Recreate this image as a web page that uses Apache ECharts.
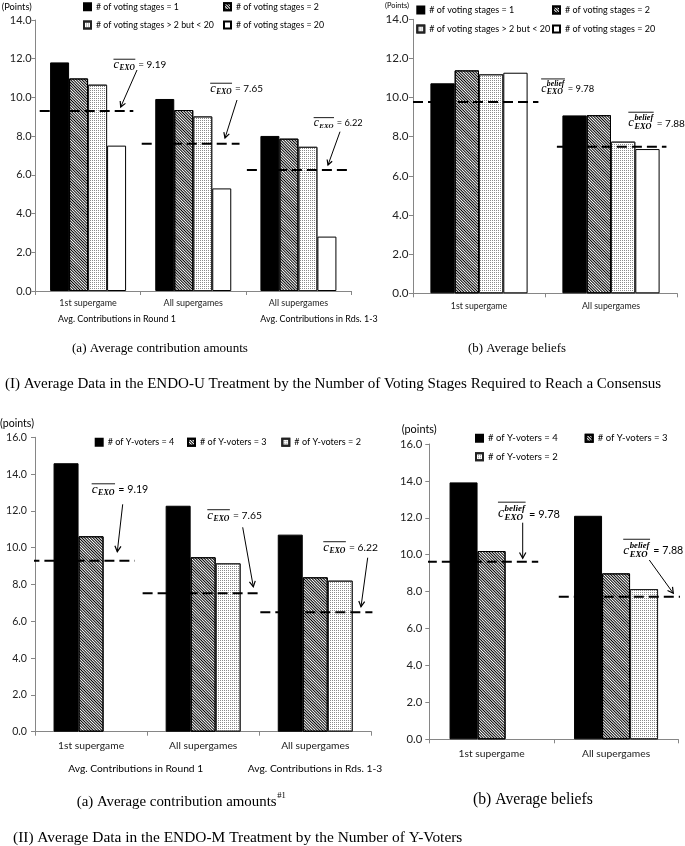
<!DOCTYPE html>
<html><head><meta charset="utf-8">
<script src="https://cdn.jsdelivr.net/npm/echarts@6/dist/echarts.min.js"></script>
<style>html,body{margin:0;padding:0;background:#fff}#c{width:685px;height:846px}</style>
</head><body><div id="c"></div>
<script>
// ---------------- DATA ----------------
const catsIA = ['1st supergame', 'All supergames', 'All supergames'];
const catsIB = ['1st supergame', 'All supergames'];
const catsIIA = ['1st supergame', 'All supergames', 'All supergames'];
const catsIIB = ['1st supergame', 'All supergames'];

const namesI = ['# of voting stages = 1', '# of voting stages = 2', '# of voting stages > 2 but < 20', '# of voting stages = 20'];
const namesII = ['# of Y-voters = 4', '# of Y-voters = 3', '# of Y-voters = 2'];

const IA_stage1 = [11.81, 9.92, 8.01];
const IA_stage2 = [10.98, 9.35, 7.87];
const IA_stage3to19 = [10.66, 9.02, 7.45];
const IA_stage20 = [7.51, 5.30, 2.81];

const IB_stage1 = [10.73, 9.09];
const IB_stage2 = [11.39, 9.10];
const IB_stage3to19 = [11.19, 7.75];
const IB_stage20 = [11.27, 7.37];

const IIA_y4 = [14.59, 12.28, 10.71];
const IIA_y3 = [10.62, 9.48, 8.39];
const IIA_y2 = [null, 9.15, 8.21];

const IIB_y4 = [13.92, 12.11];
const IIB_y3 = [10.20, 8.99];
const IIB_y2 = [null, 8.14];

// dashed reference levels (as drawn) and their printed labels
const IA_ref = [9.30, 7.61, 6.25];
const IB_ref = [9.78, 7.49];
const IIA_ref = [9.29, 7.52, 6.49];
const IIB_ref = [9.62, 7.72];
const IA_refText = ['9.19', '7.65', '6.22'];
const IB_refText = ['9.78', '7.88'];
const IIA_refText = ['9.19', '7.65', '6.22'];
const IIB_refText = ['9.78', '7.88'];

const yMaxI = 14, yMaxII = 16, yStep = 2;

// ---------------- LAYOUT / STYLE ----------------
const IA_span = [[0.04, 0.93], [1.01, 1.94], [2.01, 2.97]];
const IB_span = [[0.0, 0.95], [1.09, 1.92]];
const IIA_span = [[-0.05, 0.89], [0.96, 2.0], [2.01, 3.01]];
const IIB_span = [[-0.02, 0.875], [1.04, 2.04]];

const grids = [
  {left: 35.5, top: 20, width: 315.5, height: 271},
  {left: 413, top: 19.3, width: 264, height: 274},
  {left: 35, top: 437.3, width: 336.3, height: 294.4},
  {left: 429.3, top: 444, width: 249, height: 295.3}
];

const SANS = 'Lato';
const SERIF = 'Liberation Serif';
const AXIS_COLOR = '#868686';

const ctx = document.createElement('canvas').getContext('2d');
function tw(text, font) { ctx.font = font; return ctx.measureText(text).width; }
function fit(text, family, target, pre) { return 10 * target / tw(text, `${pre || ''} 10px "${family}"`); }

const styleSolid = {color: '#000', borderColor: '#000', borderWidth: 1};
const styleHatch = {color: '#fff', borderColor: '#000', borderWidth: 1,
  decal: {symbol: 'rect', symbolSize: 1, dashArrayX: [1, 0], dashArrayY: [1, 1], rotation: Math.PI / 4, color: '#000'}};
const styleDots = {color: '#fff', borderColor: '#222', borderWidth: 1,
  decal: {symbol: 'rect', symbolSize: 1, dashArrayX: [1, 1], dashArrayY: [1, 1], rotation: 0, color: '#8a8a8a'}};
const styleWhite = {color: '#fff', borderColor: '#000', borderWidth: 1};

const xAxes = [], yAxes = [], series = [];
function addPanel(gi, cats, yMax, catW, tickW, xMargin, yMargin, barW, names, dataArr, styles, refs, spans) {
  const labelFs = fit('All supergames', SANS, catW);
  const tickFs = fit('10.0', SANS, tickW);
  xAxes.push({type: 'category', gridIndex: gi, data: cats,
    axisLine: {lineStyle: {color: AXIS_COLOR, width: 1}},
    axisTick: {show: true, length: 4, lineStyle: {color: AXIS_COLOR}},
    axisLabel: {fontFamily: SANS, fontSize: labelFs, color: '#222', margin: xMargin, interval: 0}});
  xAxes.push({type: 'value', gridIndex: gi, min: 0, max: cats.length, show: false});
  yAxes.push({type: 'value', gridIndex: gi, min: 0, max: yMax, interval: yStep,
    axisLine: {show: true, lineStyle: {color: AXIS_COLOR, width: 1}},
    axisTick: {show: true, length: 4, lineStyle: {color: AXIS_COLOR}},
    splitLine: {show: false},
    axisLabel: {fontFamily: SANS, fontSize: tickFs, color: '#222', margin: yMargin,
      formatter: v => v.toFixed(1)}});
  const xi = xAxes.length - 2, yi = yAxes.length - 1;
  names.forEach((n, k) => {
    series.push({type: 'bar', name: n, xAxisIndex: xi, yAxisIndex: yi, data: dataArr[k],
      barWidth: barW, barGap: '0%', itemStyle: styles[k], silent: true});
  });
  refs.forEach((r, k) => {
    series.push({type: 'line', name: 'ref', xAxisIndex: xi + 1, yAxisIndex: yi,
      data: [[spans[k][0], r], [spans[k][1], r]], symbol: 'none', clip: false, z: 5, silent: true,
      lineStyle: {color: '#000', width: 2, type: [10, 5]}});
  });
}
const stylesI = [styleSolid, styleHatch, styleDots, styleWhite];
const stylesII = [styleSolid, styleHatch, styleDots];
addPanel(0, catsIA, yMaxI, 59.4, 21.7, 8, 4, 19, namesI, [IA_stage1, IA_stage2, IA_stage3to19, IA_stage20], stylesI, IA_ref, IA_span);
addPanel(1, catsIB, yMaxI, 58.3, 23, 8, 4.5, 24.3, namesI, [IB_stage1, IB_stage2, IB_stage3to19, IB_stage20], stylesI, IB_ref, IB_span);
addPanel(2, catsIIA, yMaxII, 68.3, 21, 9, 8, 25, namesII, [IIA_y4, IIA_y3, IIA_y2], stylesII, IIA_ref, IIA_span);
addPanel(3, catsIIB, yMaxII, 68.3, 22.3, 9, 7, 28, namesII, [IIB_y4, IIB_y3, IIB_y2], stylesII, IIB_ref, IIB_span);

// legends: one component per entry so the columns line up like the original
const fsLegIA = fit(namesI[0], SANS, 83);
const fsLegIB = fit(namesI[0], SANS, 85);
const fsLegIIA = fit(namesII[0], SANS, 66.7);
const fsLegIIB = fit(namesII[0], SANS, 70);
const legendPos = [
  {name: namesI[0], tx: 95, y: 6.7, fs: fsLegIA}, {name: namesI[1], tx: 235, y: 6.7, fs: fsLegIA},
  {name: namesI[2], tx: 95, y: 25, fs: fsLegIA}, {name: namesI[3], tx: 235, y: 25, fs: fsLegIA},
  {name: namesI[0], tx: 428.3, y: 10, fs: fsLegIB}, {name: namesI[1], tx: 564, y: 10, fs: fsLegIB},
  {name: namesI[2], tx: 428.3, y: 29, fs: fsLegIB}, {name: namesI[3], tx: 564, y: 29, fs: fsLegIB},
  {name: namesII[0], tx: 106.7, y: 442.3, fs: fsLegIIA}, {name: namesII[1], tx: 199, y: 442.3, fs: fsLegIIA},
  {name: namesII[2], tx: 293.3, y: 442.3, fs: fsLegIIA},
  {name: namesII[0], tx: 487, y: 438.3, fs: fsLegIIB}, {name: namesII[1], tx: 596.7, y: 438.3, fs: fsLegIIB},
  {name: namesII[2], tx: 487, y: 456.7, fs: fsLegIIB}
];
const ICON = 7;
const legends = legendPos.map(l => ({
  data: [l.name], left: l.tx - ICON - 5, top: l.y - 6, padding: 0, itemGap: 0,
  itemWidth: ICON, itemHeight: ICON, icon: 'rect', selectedMode: false,
  textStyle: {fontFamily: SANS, fontSize: l.fs, color: '#000', lineHeight: 12}
}));

// ---------------- ANNOTATION TEXT ----------------
const graphics = [];
function txt(x, y, s, align, fs, family, style, weight) {
  graphics.push({type: 'text', x: x, y: y, silent: true, style: {
    text: s, fontFamily: family, fontSize: fs, fontStyle: style || 'normal', fontWeight: weight || 'normal',
    fill: '#000', align: align || 'left', verticalAlign: 'middle'}});
}
function refLabel(a) {
  const fs = fit('= ' + a.v, SANS, a.eqW);
  const cfs = fs * 1.25, sfs = fs * (a.belief ? 0.82 : 0.75);
  const wc = tw('c', `italic ${cfs}px "${SERIF}"`);
  const wsub = tw('EXO', `italic bold ${sfs}px "${SERIF}"`);
  const wsup = a.belief ? tw('belief', `italic bold ${sfs}px "${SERIF}"`) : 0;
  const w2 = Math.max(wsub, wsup);
  const eqX = a.eqX;
  const x0 = eqX - fs * 0.4 - w2 - wc;
  txt(x0, a.y - fs * 0.05, 'c', 'left', cfs, SERIF, 'italic');
  txt(x0 + wc + 0.5, a.y + fs * 0.32, 'EXO', 'left', sfs, SERIF, 'italic', 'bold');
  if (a.belief) txt(x0 + wc + 0.5, a.y - fs * 0.52, 'belief', 'left', sfs, SERIF, 'italic', 'bold');
  const oy = a.belief ? a.y - fs * 1.1 : a.y - fs * 0.58;
  graphics.push({type: 'line', silent: true, shape: {x1: x0, y1: oy, x2: x0 + wc + w2 + 1, y2: oy},
    style: {stroke: '#000', lineWidth: 0.9}});
  txt(eqX, a.y, '= ' + a.v, 'left', fs, SANS);
  if (a.arrow) {
    const [x1, y1, x2, y2] = a.arrow;
    graphics.push({type: 'line', silent: true, shape: {x1, y1, x2, y2}, style: {stroke: '#000', lineWidth: 1}});
    const ang = Math.atan2(y2 - y1, x2 - x1), L = fs * 0.6, sp = 0.5;
    graphics.push({type: 'polyline', silent: true, shape: {points: [
      [x2 - L * Math.cos(ang - sp), y2 - L * Math.sin(ang - sp)], [x2, y2],
      [x2 - L * Math.cos(ang + sp), y2 - L * Math.sin(ang + sp)]]},
      style: {stroke: '#000', lineWidth: 1.2, fill: null}});
  }
}
const annotations = [
  {eqX: 138.3, eqW: 28, y: 65, v: IA_refText[0], arrow: [137, 70, 120.7, 107]},
  {eqX: 235, eqW: 28, y: 89, v: IA_refText[1], arrow: [237, 100, 225, 138]},
  {eqX: 336.7, eqW: 26, y: 123, v: IA_refText[2], arrow: [340, 131.7, 328, 165]},
  {eqX: 567.7, eqW: 26.5, y: 89.3, v: IB_refText[0], belief: true},
  {eqX: 656.7, eqW: 28.3, y: 123.3, v: IB_refText[1], belief: true},
  {eqX: 118.3, eqW: 30, y: 490, v: IIA_refText[0], arrow: [122.7, 504.3, 117.3, 551.7]},
  {eqX: 233, eqW: 29, y: 515.7, v: IIA_refText[1], arrow: [242.7, 527.3, 253.3, 586.7]},
  {eqX: 349, eqW: 29, y: 547.7, v: IIA_refText[2], arrow: [367.7, 557.7, 361, 606.7]},
  {eqX: 529, eqW: 31, y: 514.3, v: IIB_refText[0], belief: true, arrow: [522.7, 522.7, 522.7, 558.3]},
  {eqX: 653.3, eqW: 30, y: 551, v: IIB_refText[1], belief: true, arrow: [649.3, 560, 673.3, 593.3]}
];
annotations.forEach(refLabel);

// units & captions
txt(1.7, 6.7, '(Points)', 'left', fit('(Points)', SANS, 30), SANS);
txt(385, 5.7, '(Points)', 'left', fit('(Points)', SANS, 24), SANS);
txt(0, 423.3, '(points)', 'left', fit('(points)', SANS, 34), SANS);
txt(401.7, 429, '(points)', 'left', fit('(points)', SANS, 35), SANS);
const fsAvgI = fit('Avg. Contributions in Round 1', SANS, 118);
const fsAvgII = fit('Avg. Contributions in Round 1', SANS, 135);
txt(117, 319, 'Avg. Contributions in Round 1', 'center', fsAvgI, SANS);
txt(319, 319, 'Avg. Contributions in Rds. 1-3', 'center', fsAvgI, SANS);
txt(135.7, 769, 'Avg. Contributions in Round 1', 'center', fsAvgII, SANS);
txt(315, 769, 'Avg. Contributions in Rds. 1-3', 'center', fsAvgII, SANS);

const capIa = '(a) Average contribution amounts', capIb = '(b) Average beliefs';
const capI = '(I) Average Data in the ENDO-U Treatment by the Number of Voting Stages Required to Reach a Consensus';
const capII = '(II) Average Data in the ENDO-M Treatment by the Number of Y-Voters';
txt(72, 349, capIa, 'left', fit(capIa, SERIF, 176), SERIF);
txt(468, 349, capIb, 'left', fit(capIb, SERIF, 98), SERIF);
txt(5, 384, capI, 'left', fit(capI, SERIF, 657), SERIF);
const fsIIa = fit(capIa, SERIF, 200);
txt(76.7, 801.7, capIa, 'left', fsIIa, SERIF);
txt(76.7 + 200 + 0.5, 796, '#1', 'left', fsIIa * 0.58, SERIF);
txt(473, 800, capIb, 'left', fit(capIb, SERIF, 120), SERIF);
txt(13, 838, capII, 'left', fit(capII, SERIF, 450), SERIF);

const chart = echarts.init(document.getElementById('c'), null, {renderer: 'canvas'});
chart.setOption({
  animation: false,
  backgroundColor: '#fff',
  grid: grids,
  xAxis: xAxes,
  yAxis: yAxes,
  legend: legends,
  series: series,
  graphic: graphics
});
</script></body></html>
